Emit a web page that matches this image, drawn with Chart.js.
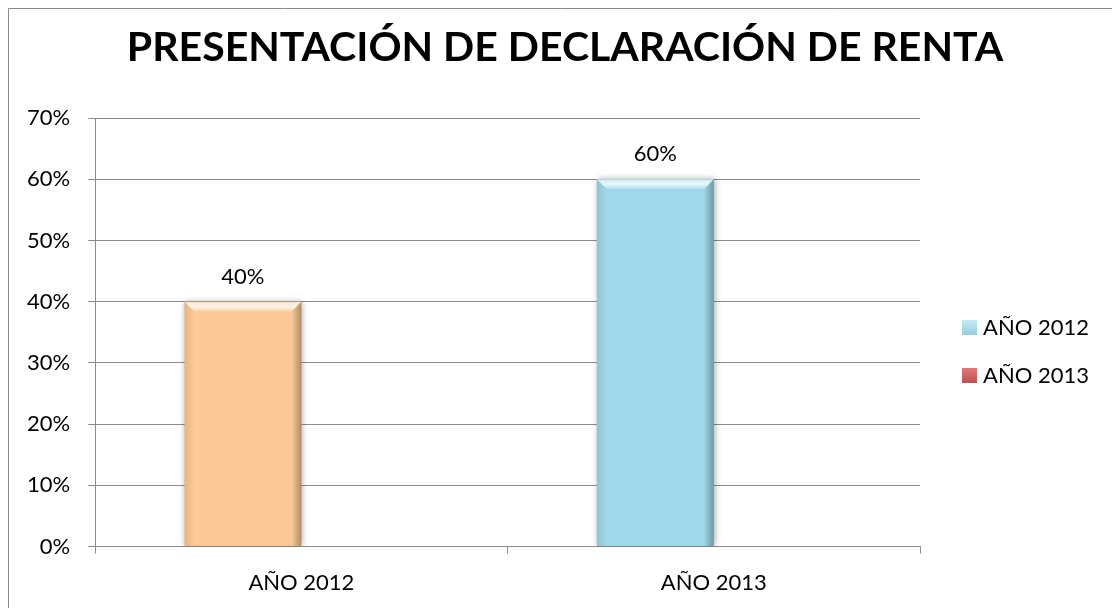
<!DOCTYPE html>
<html>
<head>
<meta charset="utf-8">
<script src="https://cdn.jsdelivr.net/npm/chart.js@4"></script>
<style>
  html, body { margin: 0; padding: 0; background: #fff; }
  #wrap { width: 1112px; height: 608px; }
</style>
</head>
<body>
<div id="wrap"><canvas id="chart"></canvas></div>
<script>
// data
const categories = ["AÑO 2012", "AÑO 2013"];
const seriesNames = ["AÑO 2012", "AÑO 2013"];
const values2012 = [40, 60];
const values2013 = [null, null];
const barColors = ["#fcc996", "#9fd9e9"];
const legendColors = ["#93cddd", "#c0504d"];
const titleText = "PRESENTACIÓN DE DECLARACIÓN DE RENTA";

const FONT = "Lato, 'Open Sans', sans-serif";
const GRID = "#8c8c8c";

// outer frame + title of the chart object
const framePlugin = {
  id: "frame",
  beforeDraw(chart) {
    const ctx = chart.ctx;
    ctx.save();
    ctx.fillStyle = "#fff";
    ctx.fillRect(0, 0, chart.width, chart.height);
    ctx.strokeStyle = "#888";
    ctx.lineWidth = 1;
    ctx.beginPath();
    ctx.moveTo(8.5, chart.height);
    ctx.lineTo(8.5, 8.5);
    ctx.lineTo(chart.width, 8.5);
    ctx.stroke();
    ctx.font = "bold 41px " + FONT;
    ctx.fillStyle = "#000";
    ctx.textAlign = "center";
    ctx.textBaseline = "middle";
    ctx.fillText(titleText, 565, 48);
    ctx.restore();
  }
};

// legend to the right of the plot
const sideLegend = {
  id: "sideLegend",
  afterDraw(chart) {
    const ctx = chart.ctx;
    const a = chart.chartArea;
    ctx.save();
    ctx.font = "22px " + FONT;
    ctx.textBaseline = "middle";
    seriesNames.forEach((n, i) => {
      const y = a.top + 209 + i * 48;
      const x = a.right + 42;
      const g = ctx.createLinearGradient(0, y - 7, 0, y + 8);
      g.addColorStop(0, i === 0 ? "#c4eaf4" : "#e07a77");
      g.addColorStop(1, legendColors[i]);
      ctx.fillStyle = g;
      ctx.fillRect(x, y - 7, 15, 15);
      ctx.fillStyle = "#000";
      ctx.fillText(n, x + 21, y + 1);
    });
    ctx.restore();
  }
};

// soft shadow + bevel like the excel bars
const bevelPlugin = {
  id: "bevel",
  beforeDatasetDraw(chart) {
    const ctx = chart.ctx;
    ctx.save();
    ctx.shadowColor = "rgba(0,0,0,0.35)";
    ctx.shadowBlur = 6;
    ctx.shadowOffsetX = 1;
  },
  afterDatasetDraw(chart, args) {
    const ctx = chart.ctx;
    ctx.restore();
    if (args.index !== 0) return;
    args.meta.data.forEach((el) => {
      if (el.skip) return;
      const p = el.getProps(["x", "y", "base", "width"], true);
      const l = p.x - p.width / 2, r = p.x + p.width / 2;
      const t = p.y, b = p.base, d = 10;
      ctx.save();
      // top bevel
      const gt = ctx.createLinearGradient(0, t, 0, t + d);
      gt.addColorStop(0, "rgba(255,255,255,0.45)");
      gt.addColorStop(0.5, "rgba(255,255,255,0.8)");
      gt.addColorStop(1, "rgba(255,255,255,0.1)");
      ctx.fillStyle = gt;
      ctx.beginPath();
      ctx.moveTo(l, t); ctx.lineTo(r, t); ctx.lineTo(r - d, t + d); ctx.lineTo(l + d, t + d);
      ctx.closePath(); ctx.fill();
      // right edge
      const g = ctx.createLinearGradient(r - d, 0, r, 0);
      g.addColorStop(0, "rgba(0,0,0,0)");
      g.addColorStop(1, "rgba(0,0,0,0.3)");
      ctx.fillStyle = g;
      ctx.beginPath();
      ctx.moveTo(r, t); ctx.lineTo(r, b); ctx.lineTo(r - d, b); ctx.lineTo(r - d, t + d);
      ctx.closePath(); ctx.fill();
      // left edge
      const g2 = ctx.createLinearGradient(l, 0, l + d, 0);
      g2.addColorStop(0, "rgba(0,0,0,0.1)");
      g2.addColorStop(1, "rgba(0,0,0,0)");
      ctx.fillStyle = g2;
      ctx.beginPath();
      ctx.moveTo(l, t); ctx.lineTo(l + d, t + d); ctx.lineTo(l + d, b); ctx.lineTo(l, b);
      ctx.closePath(); ctx.fill();
      ctx.restore();
    });
  }
};

// value labels above the bars
const valueLabels = {
  id: "valueLabels",
  afterDatasetsDraw(chart) {
    const ctx = chart.ctx;
    const meta = chart.getDatasetMeta(0);
    ctx.save();
    ctx.font = "22px " + FONT;
    ctx.fillStyle = "#000";
    ctx.textAlign = "center";
    ctx.textBaseline = "middle";
    meta.data.forEach((el, i) => {
      const v = values2012[i];
      if (v == null) return;
      ctx.fillText(v + "%", el.x, el.y - 25);
    });
    ctx.restore();
  }
};

new Chart(document.getElementById("chart"), {
  type: "bar",
  data: {
    labels: categories,
    datasets: [
      { label: seriesNames[0], data: values2012, backgroundColor: barColors },
      { label: seriesNames[1], data: values2013, backgroundColor: legendColors[1] },
    ],
  },
  options: {
    responsive: true,
    maintainAspectRatio: false,
    animation: false,
    categoryPercentage: 0.567,
    barPercentage: 1,
    layout: { padding: { left: 9, right: 192, top: 118, bottom: -4 } },
    plugins: {
      title: { display: false },
      legend: { display: false },
      tooltip: { enabled: false },
    },
    scales: {
      x: {
        grid: { drawOnChartArea: false, color: GRID, tickLength: 7 },
        border: { color: GRID },
        ticks: { color: "#000", font: { family: FONT, size: 22 }, padding: 16 },
      },
      y: {
        min: 0,
        max: 70,
        grid: { color: GRID, tickLength: 7 },
        border: { color: GRID },
        ticks: {
          stepSize: 10,
          color: "#000",
          font: { family: FONT, size: 22 },
          padding: 18,
          callback: (v) => v + "%",
        },
      },
    },
  },
  plugins: [framePlugin, sideLegend, bevelPlugin, valueLabels],
});
</script>
</body>
</html>
